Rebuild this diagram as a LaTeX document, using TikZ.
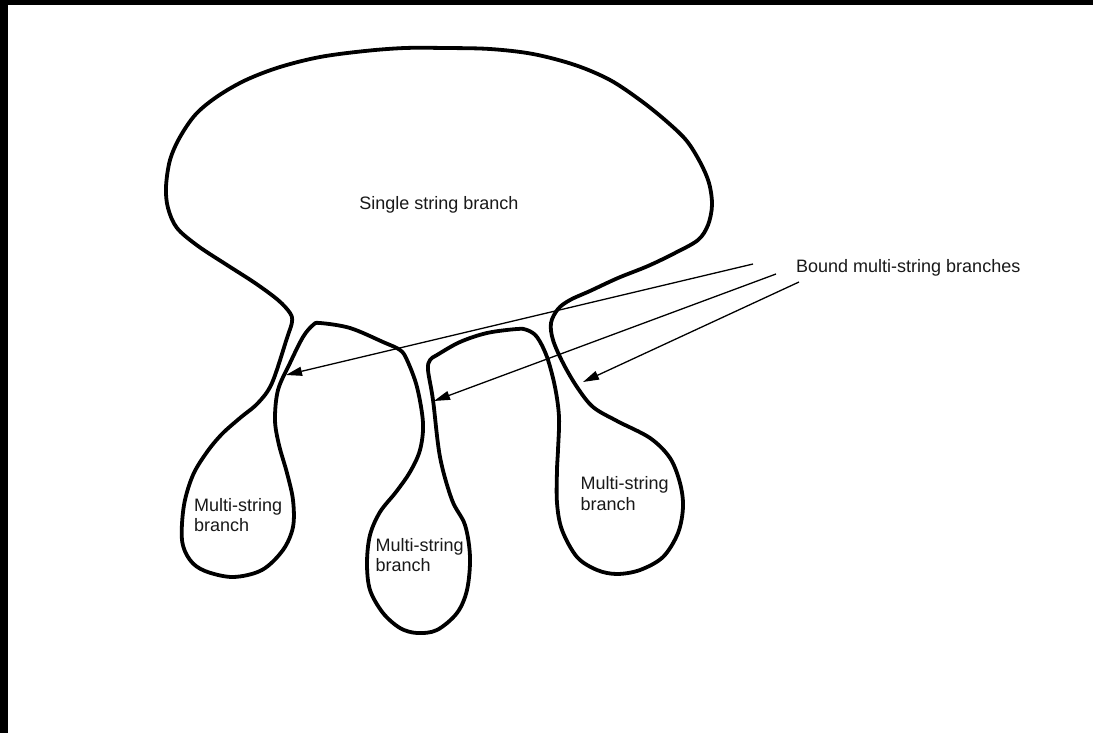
\documentclass[tikz,border=0pt]{standalone}
\usepackage{fontspec}
\setmainfont{Liberation Sans}
\usetikzlibrary{arrows.meta}
\begin{document}
\begin{tikzpicture}[x=1pt,y=-1pt,
  outline/.style={line width=3.8pt, line join=round},
  pointer/.style={line width=1.3pt, -{Triangle[length=16pt,width=9pt]}},
  lbl/.style={inner sep=0pt, font=\fontsize{18}{20.5}\selectfont, text=black!90}]
\fill[black] (0,0) rectangle (1093,733);
\fill[white] (8,5) rectangle (1093,733);
\useasboundingbox (0,0) rectangle (1093,733);

% one closed outline: single string branch with three multi-string branches
\draw[outline] plot[smooth cycle, tension=0.55] coordinates {
  (445,48) (490,49) (533,54) (575,65) (610,80) (640,100) (665,120) (686,140)
  (700,162) (709,183) (712,205) (708,225) (698,240) (675,253) (648,266) (618,278)
  (590,291) (570,300) (558,309) (551,323) (553,340) (563,363) (577,387) (593,407)
  (617,421) (650,438) (670,458) (680,483) (683,507) (678,533) (663,557) (640,570)
  (617,574) (597,570) (577,557) (562,530) (557,503) (557,470) (558,450) (559,417)
  (555,387) (547,357) (537,337) (527,330) (517,329) (487,333) (460,342) (437,355)
  (430,360) (428,370) (433,400) (440,457) (452,500) (465,525) (470,557) (467,590)
  (457,613) (437,630) (417,633) (400,628) (383,613) (370,590) (367,563) (370,535)
  (380,512) (396,492) (410,472) (420,450) (423,423) (417,387) (407,360) (400,350)
  (383,342) (350,328) (320,323) (313,325) (303,337) (290,363) (278,390) (275,420)
  (279,445) (287,473) (293,500) (293,527) (283,550) (262,570) (233,577) (205,571)
  (190,560) (182,540) (184,505) (193,475) (207,452) (222,434) (240,418) (258,403)
  (272,383) (287,338) (292,322) (290,313) (278,300) (255,283) (227,265) (198,246)
  (177,228) (168,208) (166,187) (170,160) (180,137) (196,114) (218,96) (246,80)
  (280,67) (320,57) (365,51) (405,48)};

\node[lbl, anchor=base] (single) at (439,210) {Single string branch};
\node[lbl, anchor=base west] (bound) at (796,272) {Bound multi-string branches};
\node[lbl, anchor=base west, align=left] (mleft) at (194,531.5) {Multi-string\\branch};
\node[lbl, anchor=base west, align=left] (mmid) at (375.5,571.5) {Multi-string\\branch};
\node[lbl, anchor=base west, align=left] (mright) at (580.5,510) {Multi-string\\branch};

\coordinate (s1) at (753,264);
\coordinate (s2) at (776,274);
\coordinate (s3) at (799,282);
\coordinate (t1) at (286,375);
\coordinate (t2) at (434,401);
\coordinate (t3) at (583,382);
\draw[pointer] (s1) -- (t1);
\draw[pointer] (s2) -- (t2);
\draw[pointer] (s3) -- (t3);
\end{tikzpicture}
\end{document}
